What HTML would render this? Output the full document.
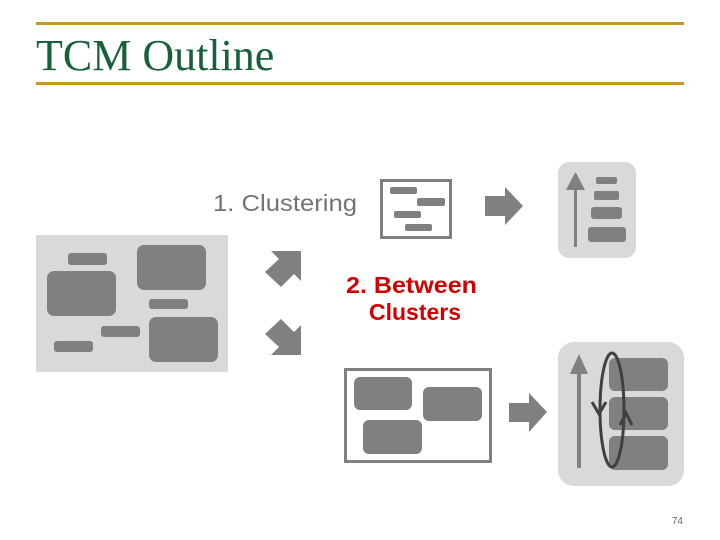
<!DOCTYPE html>
<html><head><meta charset="utf-8"><style>
html,body{margin:0;padding:0;background:#fff;}
body{width:720px;height:540px;overflow:hidden;position:relative;}
</style></head><body>
<svg width="720" height="540" viewBox="0 0 720 540" xmlns="http://www.w3.org/2000/svg" style="position:absolute;left:0;top:0">
<rect x="36" y="22" width="648" height="3" fill="#c49a1c"/>
<rect x="36" y="82" width="648" height="3" fill="#c49a1c"/>
<text x="36" y="70" font-family="Liberation Serif, serif" font-size="44" fill="#17613a">TCM Outline</text>

<rect x="36" y="235" width="192" height="137" fill="#d9d9d9"/>
<g fill="#808080">
<rect x="68" y="253" width="39" height="12" rx="3"/>
<rect x="47" y="271" width="69" height="45" rx="7"/>
<rect x="137" y="245" width="69" height="45" rx="7"/>
<rect x="149" y="299" width="39" height="10" rx="3"/>
<rect x="101" y="326" width="39" height="11" rx="3"/>
<rect x="54" y="341" width="39" height="11" rx="3"/>
<rect x="149" y="317" width="69" height="45" rx="7"/>
<polygon points="271,251 301,251 301,281 294,274 281,287 265,272 279,259"/>
<polygon points="271,355 301,355 301,325 294,332 281,319 265,334 279,347"/>
</g>

<text x="213" y="211" textLength="144" lengthAdjust="spacingAndGlyphs" font-family="Liberation Sans, sans-serif" font-size="23" fill="#737373">1. Clustering</text>

<rect x="381.5" y="180.5" width="69" height="57" fill="none" stroke="#808080" stroke-width="3"/>
<g fill="#808080">
<rect x="390" y="187" width="27" height="7" rx="2"/>
<rect x="417" y="198" width="28" height="8" rx="2"/>
<rect x="394" y="211" width="27" height="7" rx="2"/>
<rect x="405" y="224" width="27" height="7" rx="2"/>
<polygon points="485,196 505,196 505,187 523,206 505,225 505,216 485,216"/>
</g>

<rect x="558" y="162" width="78" height="96" rx="11" fill="#d9d9d9"/>
<g fill="#808080">
<rect x="574" y="188" width="3" height="59"/>
<polygon points="566,190 575.5,172 585,190"/>
<rect x="596" y="177" width="21" height="7" rx="2"/>
<rect x="594" y="191" width="25" height="9" rx="2"/>
<rect x="591" y="207" width="31" height="12" rx="3"/>
<rect x="588" y="227" width="38" height="15" rx="3"/>
</g>

<text x="346" y="293" textLength="131" lengthAdjust="spacingAndGlyphs" font-family="Liberation Sans, sans-serif" font-weight="bold" font-size="23" fill="#d40000">2. Between</text>
<text x="369" y="320" textLength="92" lengthAdjust="spacingAndGlyphs" font-family="Liberation Sans, sans-serif" font-weight="bold" font-size="23" fill="#d40000">Clusters</text>

<rect x="345.5" y="369.5" width="145" height="92" fill="none" stroke="#808080" stroke-width="3"/>
<g fill="#808080">
<rect x="354" y="377" width="58" height="33" rx="6"/>
<rect x="423" y="387" width="59" height="34" rx="6"/>
<rect x="363" y="420" width="59" height="34" rx="6"/>
<polygon points="509,403 529,403 529,393 547,412 529,432 529,422 509,422"/>
</g>

<rect x="558" y="342" width="126" height="144" rx="16" fill="#d9d9d9"/>
<g fill="#808080">
<rect x="577" y="372" width="4" height="96"/>
<polygon points="570,374 579,354 588,374"/>
<rect x="609" y="358" width="59" height="33" rx="6"/>
<rect x="609" y="397" width="59" height="33" rx="6"/>
<rect x="609" y="436" width="59" height="34" rx="6"/>
</g>
<ellipse cx="612" cy="410" rx="12" ry="57" fill="none" stroke="#404040" stroke-width="3"/>
<polyline points="592,402 599,414 606,402" fill="none" stroke="#404040" stroke-width="3"/>
<polyline points="620,425 626,413 632,425" fill="none" stroke="#404040" stroke-width="3"/>

<text x="683" y="524" text-anchor="end" font-family="Liberation Sans, sans-serif" font-size="10" fill="#666">74</text>
</svg>
</body></html>
